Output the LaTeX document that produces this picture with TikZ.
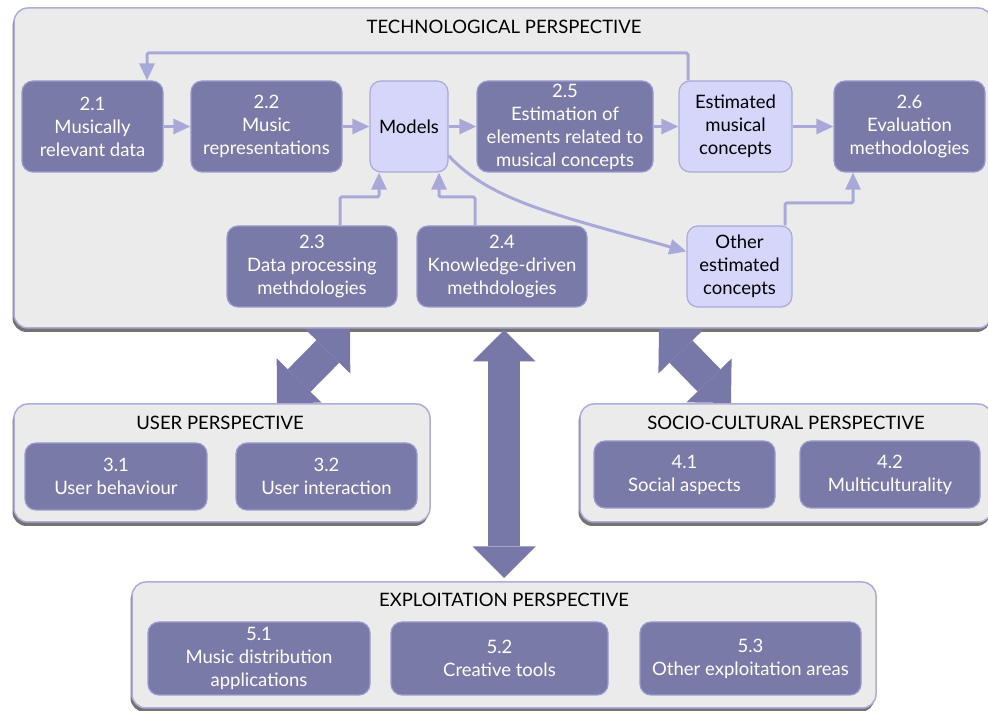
\documentclass[tikz,border=0pt]{standalone}
\usepackage{fontspec}
\setmainfont{Lato}
\usetikzlibrary{arrows.meta,shadows}
\definecolor{panelfill}{HTML}{EBEBEB}
\definecolor{paneledge}{HTML}{ADADD8}
\definecolor{boxdark}{HTML}{7A7AA8}
\definecolor{boxdarkedge}{HTML}{9A9ACE}
\definecolor{boxlight}{HTML}{D6D6FB}
\definecolor{boxlightedge}{HTML}{A9A9DA}
\definecolor{linkcol}{HTML}{A9A9D9}
\definecolor{bigcol}{HTML}{7878A8}
\begin{document}
\begin{tikzpicture}[>={Triangle[length=17bp,width=15bp]},line join=bevel,
  font=\fontsize{18.5bp}{23bp}\selectfont,
  panel/.style={draw=paneledge,line width=1.5bp,fill=panelfill,rounded corners=14bp,
    drop shadow={shadow xshift=-1.5bp,shadow yshift=-4bp,opacity=0.55,fill=black}},
  dark/.style={draw=boxdarkedge,line width=1.2bp,fill=boxdark,text=white,
    rounded corners=11bp,align=center,inner sep=1bp},
  light/.style={dark,fill=boxlight,draw=boxlightedge,text=black},
  link/.style={draw=linkcol,line width=3bp,rounded corners=1.5bp},
  bigtip/.tip={Triangle[length=31.5bp,width=63bp,line width=0pt]},
  bigarrow/.style={draw=bigcol,line width=32bp,bigtip-bigtip},]
%%
\fill [white] (0bp,0bp) rectangle (988bp,711bp);
\clip (0bp,0bp) rectangle (988bp,711bp);
%% perspectives
\node (tech) at (503bp,543bp) [panel,minimum width=978bp,minimum height=320bp] {};
\node (user) at (222bp,248bp) [panel,minimum width=416bp,minimum height=118bp] {};
\node (socio) at (786bp,248bp) [panel,minimum width=412bp,minimum height=118bp] {};
\node (expl) at (504bp,66bp) [panel,minimum width=744bp,minimum height=126bp] {};
\node (tech_t) at (504bp,684bp) {TECHNOLOGICAL PERSPECTIVE};
\node (user_t) at (220bp,288bp) {USER PERSPECTIVE};
\node (socio_t) at (786bp,288bp) {SOCIO-CULTURAL PERSPECTIVE};
\node (expl_t) at (504bp,111bp) {EXPLOITATION PERSPECTIVE};
%% links between perspectives
\coordinate (ua_t) at (350bp,382bp);
\coordinate (ua_b) at (277bp,308bp);
\coordinate (ea_t) at (504bp,381bp);
\coordinate (ea_b) at (504bp,133bp);
\coordinate (sa_t) at (659bp,382bp);
\coordinate (sa_b) at (731bp,308bp);
\draw [bigarrow] (ua_b) -- (ua_t);
\draw [bigarrow] (ea_b) -- (ea_t);
\draw [bigarrow] (sa_b) -- (sa_t);
%% technological perspective
\node (d21) at (92.5bp,584.5bp) [dark,minimum width=141bp,minimum height=91bp] {2.1\\Musically\\relevant data};
  \node (d22) at (266.5bp,584.5bp) [dark,minimum width=151bp,minimum height=91bp] {2.2\\Music\\representations};
  \node (models) at (409bp,584.5bp) [light,minimum width=78bp,minimum height=91bp] {Models};
  \node (d25) at (565bp,584.5bp) [dark,minimum width=176bp,minimum height=91bp] {2.5\\Estimation of\\elements related to\\musical concepts};
  \node (estm) at (735.5bp,584.5bp) [light,minimum width=113bp,minimum height=91bp] {Estimated\\musical\\concepts};
  \node (d26) at (909.5bp,584.5bp) [dark,minimum width=151bp,minimum height=91bp] {2.6\\Evaluation\\methodologies};
  \node (d23) at (312bp,444.5bp) [dark,minimum width=170bp,minimum height=81bp] {2.3\\Data processing\\methdologies};
  \node (d24) at (502bp,444.5bp) [dark,minimum width=170bp,minimum height=81bp] {2.4\\Knowledge-driven\\methdologies};
  \node (other) at (739.5bp,444.5bp) [light,minimum width=105bp,minimum height=81bp] {Other\\estimated\\concepts};
%% user, socio-cultural and exploitation perspectives
\node (d31) at (116bp,234.5bp) [dark,minimum width=182bp,minimum height=67bp] {3.1\\User behaviour};
  \node (d32) at (326.5bp,234.5bp) [dark,minimum width=181bp,minimum height=67bp] {3.2\\User interaction};
  \node (d41) at (684.5bp,236.5bp) [dark,minimum width=181bp,minimum height=67bp] {4.1\\Social aspects};
  \node (d42) at (890bp,236.5bp) [dark,minimum width=180bp,minimum height=67bp] {4.2\\Multiculturality};
  \node (d51) at (259bp,52.5bp) [dark,minimum width=222bp,minimum height=73bp] {5.1\\Music distribution\\applications};
  \node (d52) at (499.5bp,52.5bp) [dark,minimum width=217bp,minimum height=73bp] {5.2\\Creative tools};
  \node (d53) at (750.5bp,52.5bp) [dark,minimum width=221bp,minimum height=73bp] {5.3\\Other exploitation areas};
%% connectors
\draw [link,->] (d21) -- (d22);
  \draw [link,->] (d22) -- (models);
  \draw [link,->] (models) -- (d25);
  \draw [link,->] (d25) -- (estm);
  \draw [link,->] (estm) -- (d26);
\coordinate (fb_r) at (688bp,658bp);
  \coordinate (fb_l) at (147bp,658bp);
  \draw [link,->] (estm.north -| fb_r) -- (fb_r) -- (fb_l) -- (d21.north -| fb_l);
\coordinate (k23_a) at (340bp,514bp);
  \coordinate (k23_b) at (379bp,514bp);
  \draw [link,->] (d23.north -| k23_a) -- (k23_a) -- (k23_b) -- (models.south -| k23_b);
\coordinate (k24_a) at (475bp,514bp);
  \coordinate (k24_b) at (439bp,514bp);
  \draw [link,->] (d24.north -| k24_a) -- (k24_a) -- (k24_b) -- (models.south -| k24_b);
\coordinate (ko_a) at (785bp,508bp);
  \coordinate (ko_b) at (853bp,508bp);
  \draw [link,->] (other.north -| ko_a) -- (ko_a) -- (ko_b) -- (d26.south -| ko_b);
\draw [link,->] ([yshift=17bp]models.south east) ..controls (490bp,510bp) and (560bp,495bp) .. ([yshift=15bp]other.west);
%
\end{tikzpicture}
\end{document}
